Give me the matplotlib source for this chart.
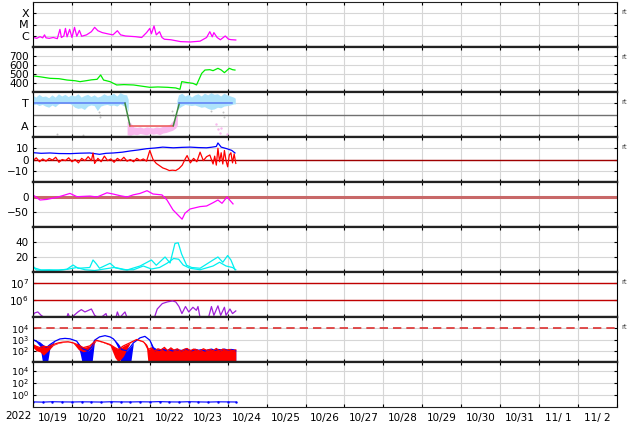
import numpy as np
import matplotlib
matplotlib.use('Agg')
import matplotlib.pyplot as plt
import matplotlib.dates as mdates
import matplotlib.ticker as mticker

# ---- data (hours after 2022-10-19 00:00 UT) ----
xray_hours = [0, 2.3, 4.3, 6, 7.1, 8, 10, 12.5, 15, 16.6, 17.5, 19, 20, 21, 22.6, 24, 25.6, 27, 28.6, 30,
              33, 36, 38, 40, 42.7, 46.8, 49.3, 52, 54, 57, 63, 67, 70, 72, 73, 74.6, 76, 78, 79.5, 81,
              85, 91, 97, 103, 107, 109, 110.5, 111.5, 113.5, 115.5, 118.5, 120.5, 122, 125]
xray_flux = [7.3e-7, 5.9e-7, 8.3e-7, 6.5e-7, 1.2e-6, 6.5e-7, 5.9e-7, 7e-7, 5.5e-7, 3.7e-6, 7e-7, 9.5e-7,
             4.5e-6, 8e-7, 3.7e-6, 7e-7, 5.6e-6, 9e-7, 3e-6, 9e-7, 1.2e-6, 2.3e-6, 5.6e-6, 2.8e-6,
             1.9e-6, 1.4e-6, 1.2e-6, 2.8e-6, 1.2e-6, 9.5e-7, 8.3e-7, 7e-7, 1.9e-6, 4.5e-6, 1.5e-6,
             7.4e-6, 1.2e-6, 2.3e-6, 7e-7, 4.9e-7, 4.4e-7, 3e-7, 2.8e-7, 3.3e-7, 7e-7, 2.3e-6, 8e-7,
             1.9e-6, 7e-7, 4.4e-7, 9.5e-7, 5e-7, 4.5e-7, 4.2e-7]

speed_hours = [0, 4, 10.5, 16, 21, 26, 29, 33, 36, 39.5, 41.7, 43.5, 47.5, 51.6, 56, 62, 67, 72, 77, 83,
               88, 90.6, 91.7, 95, 98.7, 100.8, 104, 106, 109, 111, 114, 116, 118, 121, 123, 124.5]
speed = [478, 470, 452, 448, 433, 425, 415, 426, 435, 441, 489, 433, 415, 378, 382, 378, 365, 352, 356, 352,
         345, 330, 415, 405, 396, 378, 507, 544, 548, 537, 563, 545, 515, 563, 548, 544]

sector_hours = [0, 56.7, 59.8, 86.5, 90.2, 122.5]
sector_vals = [1, 1, -1, -1, 1, 1]
sector_colors = ['#5b7cf5', '#3f8a3f', '#ee5555', '#3f8a3f', '#5b7cf5']

lb_hours = [0, 2, 4, 6, 8, 10, 12, 14, 16, 18, 20, 22, 24, 26, 28, 30, 32, 34, 36, 38, 40, 42, 44, 46, 48,
            50, 52, 54, 56, 58, 59, 74, 89, 90, 92, 94, 96, 98, 100, 102, 104, 106, 108, 110, 112, 114,
            116, 118, 120, 122, 124, 125]
lb_hi = [1.7, 1.5, 1.75, 1.55, 1.6, 1.45, 1.7, 1.5, 1.8, 1.6, 1.75, 1.55, 1.7, 1.6, 1.8, 1.5, 1.65, 1.75,
         1.55, 1.7, 1.5, 1.6, 1.8, 1.65, 1.7, 1.85, 1.6, 1.9, 1.75, 1.7, 1.3, np.nan, 1.2, 1.7, 1.85, 1.6,
         1.75, 1.5, 1.7, 1.8, 1.6, 1.85, 1.7, 1.9, 1.75, 1.8, 1.6, 1.85, 1.7, 1.6, 1.5, 1.4]
lb_lo = [0.8, 0.9, 0.75, 0.85, 0.7, 0.6, 0.8, 0.65, 0.9, 1.0, 0.95, 1.0, 0.85, 0.6, 0.5, 0.55, 0.4, 0.7,
         0.8, 0.75, 0.3, 0.7, 0.8, 0.85, 0.75, 0.8, 0.7, 0.9, 0.75, 0.6, 0.2, np.nan, 0.3, 0.5, 0.7, 0.85,
         0.8, 0.75, 0.8, 0.7, 0.6, 0.65, 0.5, 0.4, 0.45, 0.6, 0.55, 0.7, 0.75, 0.8, 0.9, 0.9]
pink_hours = [58, 60, 62, 64, 66, 68, 70, 72, 74, 76, 78, 80, 82, 84, 86, 88, 89]
pink_hi = [-0.6, -0.7, -1.1, -1.15, -1.1, -1.2, -1.1, -1.15, -1.2, -1.1, -1.15, -1.05, -1.0, -0.9, -0.6,
           -0.2, 0.1]
pink_lo = [-1.8, -1.85, -1.75, -1.8, -1.7, -1.75, -1.8, -1.7, -1.75, -1.7, -1.8, -1.65, -1.6, -1.5, -1.4,
           -1.2, -0.9]
gray_hours = [14.6, 31, 40.5, 41, 41.5, 85.5, 86, 110, 117, 118]
gray_vals = [-1.7, -1.8, 0.2, 0.0, -0.2, 0.3, 0.0, 0.3, 0.2, -0.2]
pinkdot_hours = [113, 114, 115, 116, 119.5]
pinkdot_vals = [-0.8, -1.3, -1.6, -1.2, -1.7]

bt_hours = [0, 5, 10.5, 16, 23, 29, 35, 41, 45, 49.5, 55, 60, 65, 70, 75, 80, 86.5, 92, 97, 102, 107, 110,
            113, 114, 116, 119.5, 122.5, 124.5]
bt = [6.1, 5.5, 5.8, 5.3, 5.2, 5.6, 5.8, 4.6, 5.5, 5.8, 6.5, 7.6, 8.5, 9.6, 10.2, 11.0, 10.4, 10.8, 11.0,
      10.6, 10.4, 10.9, 11.6, 14.7, 11.0, 9.6, 8.1, 5.8]
bz_hours = [0, 2, 4, 6, 8, 10, 12, 14, 16, 18, 20, 22, 24, 26, 28, 30, 32, 34, 36, 37, 38, 40, 42, 44, 46,
            48, 50, 52, 54, 56, 58, 60, 62, 64, 66, 68, 70, 72, 74, 76, 78, 80, 82, 84, 86, 88, 90, 92, 94,
            95, 97, 99, 101, 103, 105, 107, 109, 111, 112, 113, 114, 115, 116, 117, 118, 119, 120, 121,
            122, 123, 124, 125]
bz = [-1, 1.5, -2, 0.5, -1.5, 1, -0.5, 2, -2.5, 0, -1, 1.5, -2, 0, -3, 1, -1, 2.5, -1, 5.8, -3.5, 1, -2, 3,
      -1, 0.5, -2.5, 1, -1, 2, -1.5, 0, -2, 1, -1, 0.5, -1.5, 8, 0, -3.5, -5.5, -7.5, -8.5, -9.8, -9.5,
      -9.8, -8, -5, 1, 3.5, -3, 1, -2, 6.5, -1, 2.5, 4, -4, 3, -5, 10, -2, 6, -4, 8, -1, -6.5, 4, 6, -3, 5,
      -3.5]

dst_hours = [0, 4.3, 8.6, 14.8, 18, 22.8, 27.1, 31, 35.1, 39.5, 45.6, 49.3, 54, 58, 61.7, 66, 70.3, 74,
             79.5, 82.6, 86.3, 91.9, 93.7, 96.8, 103, 107, 111, 114, 116.5, 119.6, 123.3]
dst = [7, -10, -8, -1, 4, 12, 1, 2, 3, 0, 14, 10, 4, 0, 7, 12, 21, 10, 7, -10, -43, -74, -54, -40, -32, -30,
       -19, -10, -21, 0, -23]

cyan_hours_a = [0, 5, 10, 16, 21, 27, 32, 38, 44, 50, 56, 62, 68, 73, 78, 82.6, 86.7, 89.8, 92.6, 96.7,
                103, 111, 115, 119, 123, 125]
cyan_a = [6, 2.7, 3, 2.5, 3.5, 6, 3, 2, 4, 6, 3, 3, 8, 4, 6, 11.6, 18, 17, 9.3, 5, 3, 8, 13, 8, 6, 3]
cyan_hours_b = [0, 2, 10.5, 16.6, 20.8, 24.7, 27.8, 35, 37, 39, 41, 47.5, 50.5, 58, 66, 73, 76, 81.4,
                84.5, 87.5, 89.5, 91.6, 94.7, 97.8, 103, 111, 114, 117, 120, 122, 124.5]
cyan_b = [8, 2.7, 1.8, 2.7, 3.6, 9.3, 4.9, 6, 16, 11, 5, 11.6, 6, 2.7, 8, 16, 9, 20, 12, 38, 39, 24, 9, 6,
          5, 16, 20, 13, 22, 16, 3]

prot_hours = [0, 1, 3, 5, 8, 20.6, 21.6, 23, 27.7, 29.8, 32, 33.4, 36, 38, 41, 45, 46, 51, 52, 53.4, 56.7,
              58, 74.6, 76.6, 79.7, 82.8, 86, 88, 90, 91.8, 94, 96, 98.6, 100.7, 101.7, 103, 108, 110,
              111.5, 114, 115.7, 118, 119, 121.4, 123, 125]
prot = [1.26e5, 1.74e5, 2.0e5, 1.26e5, 8e4, 8e4, 1.6e5, 8e4, 2.0e5, 2.75e5, 2.0e5, 2.3e5, 3.0e5, 1.26e5,
        8e4, 1.6e5, 8e4, 8e4, 2.0e5, 9e4, 2.0e5, 9e4, 8e4, 3.0e5, 6.3e5, 7.9e5, 9.1e5, 7.9e5, 4.2e5,
        1.6e5, 4.2e5, 2.0e5, 3.8e5, 2.5e5, 4.2e5, 9e4, 8e4, 4.2e5, 1.26e5, 4.6e5, 1.26e5, 3.8e5, 1.26e5,
        3.0e5, 1.6e5, 2.3e5]

eb_hours = [0, 2, 4.3, 6.4, 8.4, 10.5, 13.6, 16.6, 19.7, 22.8, 26.9, 29, 31, 34, 36, 38, 41, 44.4, 47.5,
            49.5, 52.6, 54.7, 57.8, 59.8, 61.9, 66, 69, 72, 74.2, 76, 78, 80, 82, 84, 86, 88, 90, 92, 94,
            96, 98, 100, 102, 104, 106, 108, 110, 112, 114, 116, 118, 120, 122, 124, 125]
eb_hi = [1000, 710, 500, 280, 200, 355, 710, 1120, 1260, 1150, 720, 280, 140, 100, 200, 870, 1700, 2190,
         1700, 1150, 360, 126, 100, 200, 500, 1410, 1900, 870, 186, 130, 110, 140, 100, 125, 95, 130, 115,
         105, 140, 120, 100, 135, 110, 125, 95, 120, 140, 110, 130, 120, 140, 115, 130, 120, 100]
eb_lo = [1000, 600, 250, 3, 3, 200, 710, 1120, 1260, 1150, 720, 63, 3, 3, 3, 870, 1700, 2190, 1700, 1150,
         160, 3, 3, 3, 500, 1410, 1900, 870, 32, 3, 3, 3, 3, 3, 3, 3, 3, 3, 3, 3, 3, 3, 3, 3, 3, 3, 3, 3, 3,
         3, 3, 3, 3, 3, 3]
er_hours = [0, 2, 4.3, 6.4, 9.4, 12.5, 15.6, 18.6, 21.6, 24.7, 28, 31, 35, 39, 43, 47.5, 50.5, 52.6, 55.7,
            59.8, 63.9, 68, 70, 71.2, 73, 75, 77, 79, 81, 83, 85, 87, 89, 91, 93, 95, 97, 99, 101, 103,
            105, 107, 109, 111, 113, 115, 117, 119, 121, 123, 125]
er_hi = [360, 250, 190, 250, 220, 360, 500, 590, 630, 510, 320, 190, 270, 870, 590, 360, 190, 130, 270, 510,
         1000, 630, 320, 130, 180, 90, 150, 120, 200, 100, 180, 110, 150, 90, 130, 160, 100, 140, 120, 90,
         150, 110, 130, 100, 160, 95, 140, 110, 130, 100, 120]
er_lo = [200, 100, 80, 40, 100, 300, 450, 550, 600, 480, 126, 80, 126, 800, 550, 300, 25, 10, 32, 480, 950,
         600, 160, 3, 3, 3, 3, 3, 3, 3, 3, 3, 3, 3, 3, 3, 3, 3, 3, 3, 3, 3, 3, 3, 3, 3, 3, 3, 3, 3, 3]

p9_hours = [0, 6, 12, 18, 24, 30, 36, 42, 48, 54, 60, 66, 72, 78, 84, 90, 96, 102, 108, 114, 120, 125]
p9_vals = [0.07, 0.065, 0.075, 0.07, 0.068, 0.072, 0.07, 0.066, 0.074, 0.07, 0.069, 0.073, 0.07, 0.078,
           0.07, 0.068, 0.075, 0.07, 0.066, 0.072, 0.07, 0.068]

t0 = np.datetime64('2022-10-19T00:00')
t_end = np.datetime64('2022-11-03T00:00')


def when(hours):
    return t0 + (np.asarray(hours, dtype=float) * 60).round().astype(int).astype('timedelta64[m]')


def day_label(x, pos):
    d = mdates.num2date(x)
    return f'{d.month}/{d.day:2d}'


fig, axes = plt.subplots(9, 1, figsize=(6.34, 4.24), dpi=100, sharex=True)
fig.subplots_adjust(left=33 / 634, right=617 / 634, top=1 - 2 / 424, bottom=1 - 407 / 424, hspace=0)

for i, ax in enumerate(axes):
    ax.set_xlim(t0, t_end)
    ax.xaxis.set_major_locator(mdates.DayLocator())
    ax.xaxis.set_minor_locator(mdates.HourLocator(byhour=12))
    ax.xaxis.set_major_formatter(mticker.NullFormatter())
    ax.xaxis.set_minor_formatter(mticker.FuncFormatter(day_label))
    ax.tick_params(axis='x', which='major', direction='in', length=2, top=True)
    ax.tick_params(axis='x', which='minor', length=0, labelsize=7.5, pad=4)
    ax.tick_params(axis='y', which='major', direction='in', length=2, right=True, labelsize=7.5, pad=3)
    ax.tick_params(axis='y', which='minor', length=0)
    ax.grid(axis='x', which='major', color='#d6d6d6', lw=0.8)
    ax.grid(axis='y', which='major', color='#d6d6d6', lw=0.8)
    ax.set_axisbelow(True)
    for s in ['left', 'right']:
        ax.spines[s].set_linewidth(0.8)
    ax.spines['top'].set_linewidth(0.8 if i == 0 else 1.6)
    ax.spines['bottom'].set_linewidth(0.8 if i == 8 else 1.6)
    ax.spines['top'].set_color('#222222')
    ax.spines['bottom'].set_color('#222222')
    if i < 8:
        ax.tick_params(axis='x', which='both', labelbottom=False)

# 1: x-ray flux
ax = axes[0]
ax.set_yscale('log')
ax.plot(when(xray_hours), xray_flux, color='#ff00ff', lw=0.9)
ax.set_ylim(1e-7, 1e-3)
ax.set_yticks([1e-6, 1e-5, 1e-4])
ax.set_yticklabels(['C', 'M', 'X'], fontsize=8)
ax.yaxis.set_minor_locator(mticker.NullLocator())

# 2: solar wind speed
ax = axes[1]
ax.plot(when(speed_hours), speed, color='#00ee00', lw=0.9)
ax.set_ylim(300, 800)
ax.set_yticks([400, 500, 600, 700])

# 3: sector (T / A)
ax = axes[2]
ax.fill_between(when(lb_hours), lb_lo, lb_hi, color='#ade3fb', lw=0)
ax.fill_between(when(pink_hours), pink_lo, pink_hi, color='#f9b8ee', lw=0)
ax.scatter(when(gray_hours), gray_vals, s=2, color='#c4c4c4', lw=0)
ax.scatter(when(pinkdot_hours), pinkdot_vals, s=3, color='#f9b8ee', lw=0)
ax.axhline(0, color='#707070', lw=1)
for k in range(len(sector_hours) - 1):
    ax.plot(when(sector_hours[k:k + 2]), sector_vals[k:k + 2], color=sector_colors[k], lw=1.1)
ax.set_ylim(-2, 2)
ax.set_yticks([1, -1])
ax.set_yticklabels(['T', 'A'], fontsize=8)

# 4: IMF Bt / Bz
ax = axes[3]
ax.axhline(0, color='#a00000', lw=1)
ax.plot(when(bt_hours), bt, color='#0000ff', lw=0.9)
ax.plot(when(bz_hours), bz, color='#ff0000', lw=0.9)
ax.set_ylim(-20, 20)
ax.set_yticks([-10, 0, 10])

# 5: Dst
ax = axes[4]
ax.axhline(0, color='#c86868', lw=2.2)
ax.plot(when(dst_hours), dst, color='#ff00ff', lw=0.9)
ax.set_ylim(-100, 50)
ax.set_yticks([-50, 0])

# 6: cyan pair
ax = axes[5]
ax.plot(when(cyan_hours_a), cyan_a, color='#00f0f0', lw=0.9)
ax.plot(when(cyan_hours_b), cyan_b, color='#00f0f0', lw=0.9)
ax.set_ylim(0, 60)
ax.set_yticks([20, 40])

# 7: proton flux
ax = axes[6]
ax.set_yscale('log')
ax.axhline(1e6, color='#c00000', lw=1)
ax.axhline(1e7, color='#c00000', lw=1)
ax.plot(when(prot_hours), prot, color='#a020d8', lw=0.9)
ax.set_ylim(1e5, 4.8e7)
ax.set_yticks([1e6, 1e7])
ax.yaxis.set_minor_locator(mticker.NullLocator())

# 8: electron flux
ax = axes[7]
ax.set_yscale('log')
ax.axhline(1e4, color='#dd3030', lw=1.2, ls=(0, (5, 3)))
ax.fill_between(when(eb_hours), eb_lo, eb_hi, color='#0000ff', lw=0)
ax.plot(when(eb_hours), eb_hi, color='#0000ff', lw=0.9)
ax.fill_between(when(er_hours), er_lo, er_hi, color='#ff0000', lw=0)
ax.plot(when(er_hours), er_hi, color='#ff0000', lw=0.9)
ax.set_ylim(10, 1e5)
ax.set_yticks([1e2, 1e3, 1e4])
ax.tick_params(axis='y', labelsize=6.8)
ax.yaxis.set_minor_locator(mticker.NullLocator())

# 9: bottom panel
ax = axes[8]
ax.set_yscale('log')
ax.plot(when(p9_hours), p9_vals, color='#0000ff', lw=0.8, marker='.', ms=1.5)
ax.set_ylim(1e-2, 3e5)
ax.set_yticks([1, 1e2, 1e4])
ax.tick_params(axis='y', labelsize=6.8)
ax.yaxis.set_minor_locator(mticker.NullLocator())

for y in [12, 57, 102, 147, 282, 327]:
    fig.text(621 / 634, 1 - y / 424, 'rt', fontsize=5, color='#444444', ha='left', va='center')
fig.text(18 / 634, 1 - 416 / 424, '2022', fontsize=7.5, ha='center', va='center')

fig.savefig('out.png', dpi=100)
